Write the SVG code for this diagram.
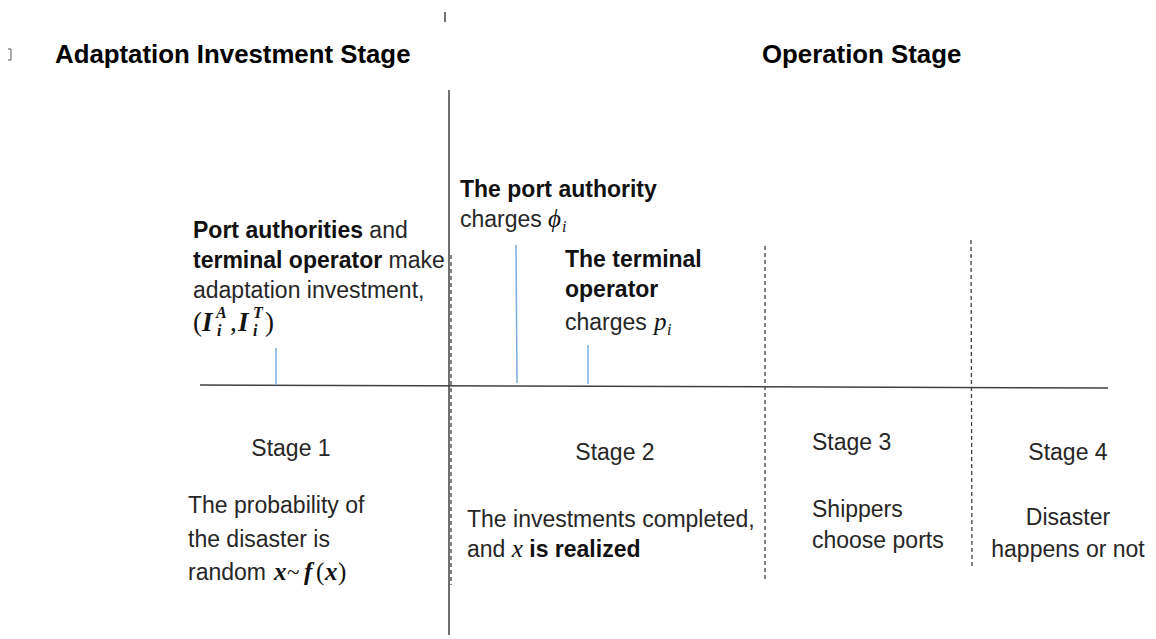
<svg xmlns="http://www.w3.org/2000/svg" width="1156" height="639" viewBox="0 0 1156 639">
<style>
  .t { font-family: "Liberation Sans", Arial, sans-serif; font-size: 23px; fill: #262626; }
  .b { font-weight: bold; fill: #111; }
  .h { font-family: "Liberation Sans", Arial, sans-serif; font-size: 25.8px; font-weight: bold; fill: #000; }
  .m { font-family: "Liberation Serif", "Times New Roman", serif; font-style: italic; fill: #111; }
  .mb { font-family: "Liberation Serif", "Times New Roman", serif; font-style: italic; font-weight: bold; fill: #111; }
  .mr { font-family: "Liberation Serif", "Times New Roman", serif; fill: #111; }
  .axis { stroke: #404040; stroke-width: 1.5; fill: none; }
  .dash { stroke: #404040; stroke-width: 1.3; stroke-dasharray: 4 3; fill: none; }
  .tick { stroke: #7aaee0; stroke-width: 1.5; fill: none; }
</style>
<rect width="1156" height="639" fill="#fff"/>

<g id="artifacts">
  <line class="axis" x1="445" y1="12" x2="445" y2="22" stroke-width="1"/>
  <path d="M8 49 H11 V60 H8" fill="none" stroke="#555" stroke-width="1"/>
</g>

<g id="headers">
  <text class="h" x="55" y="63">Adaptation Investment Stage</text>
  <text class="h" x="762" y="63">Operation Stage</text>
</g>

<g id="connectors">
  <line class="axis" x1="449" y1="90" x2="449" y2="635"/>
  <line class="dash" x1="451" y1="255" x2="451" y2="585"/>
  <line class="axis" x1="200" y1="385" x2="1108" y2="388"/>
  <line class="dash" x1="765" y1="246" x2="765" y2="580"/>
  <line class="dash" x1="971" y1="240" x2="972" y2="566"/>
  <line class="tick" x1="276" y1="348" x2="276" y2="385"/>
  <line class="tick" x1="516" y1="245" x2="517" y2="383"/>
  <line class="tick" x1="588" y1="345" x2="588" y2="384"/>
</g>

<g id="event-investment">
  <text class="t" x="193" y="238"><tspan class="b">Port authorities</tspan> and</text>
  <text class="t" x="193" y="268"><tspan class="b">terminal operator</tspan> make</text>
  <text class="t" x="193" y="298">adaptation investment,</text>
  <text class="mr" x="193" y="331" font-size="27">(</text>
  <text class="mb" x="202" y="331" font-size="27">I</text>
  <text class="mb" x="216" y="318" font-size="16">A</text>
  <text class="mb" x="217" y="336" font-size="16">i</text>
  <text class="mr" x="230" y="331" font-size="27">,</text>
  <text class="mb" x="238" y="331" font-size="27">I</text>
  <text class="mb" x="253" y="318" font-size="16">T</text>
  <text class="mb" x="253" y="336" font-size="16">i</text>
  <text class="mr" x="265" y="331" font-size="27">)</text>
</g>

<g id="event-port-authority">
  <text class="t" x="460" y="197"><tspan class="b">The port authority</tspan></text>
  <text class="t" x="460" y="227">charges</text>
  <text class="m" x="548" y="227" font-size="25">ϕ</text>
  <text class="m" x="562" y="232" font-size="16">i</text>
</g>

<g id="event-terminal-operator">
  <text class="t b" x="565" y="267">The terminal</text>
  <text class="t b" x="565" y="297">operator</text>
  <text class="t" x="565" y="330">charges</text>
  <text class="m" x="654" y="330" font-size="25">p</text>
  <text class="m" x="667" y="335" font-size="16">i</text>
</g>

<g id="stage1">
  <text class="t" x="291" y="456" text-anchor="middle">Stage 1</text>
  <text class="t" x="188" y="513">The probability of</text>
  <text class="t" x="188" y="547">the disaster is</text>
  <text class="t" x="188" y="580">random</text>
  <text class="mb" x="274" y="580" font-size="25">x</text>
  <text class="mr" x="287" y="580" font-size="23">~</text>
  <text class="mb" x="304" y="580" font-size="25">f</text>
  <text class="mr" x="316" y="580" font-size="25">(</text>
  <text class="mb" x="325" y="580" font-size="25">x</text>
  <text class="mr" x="338" y="580" font-size="25">)</text>
</g>

<g id="stage2">
  <text class="t" x="615" y="460" text-anchor="middle">Stage 2</text>
  <text class="t" x="467" y="527">The investments completed,</text>
  <text class="t" x="467" y="557">and <tspan class="m" font-size="25">x</tspan><tspan class="b"> is realized</tspan></text>
</g>

<g id="stage3">
  <text class="t" x="812" y="450">Stage 3</text>
  <text class="t" x="812" y="517">Shippers</text>
  <text class="t" x="812" y="548">choose ports</text>
</g>

<g id="stage4">
  <text class="t" x="1068" y="460" text-anchor="middle">Stage 4</text>
  <text class="t" x="1068" y="525" text-anchor="middle">Disaster</text>
  <text class="t" x="1068" y="557" text-anchor="middle">happens or not</text>
</g>
</svg>
